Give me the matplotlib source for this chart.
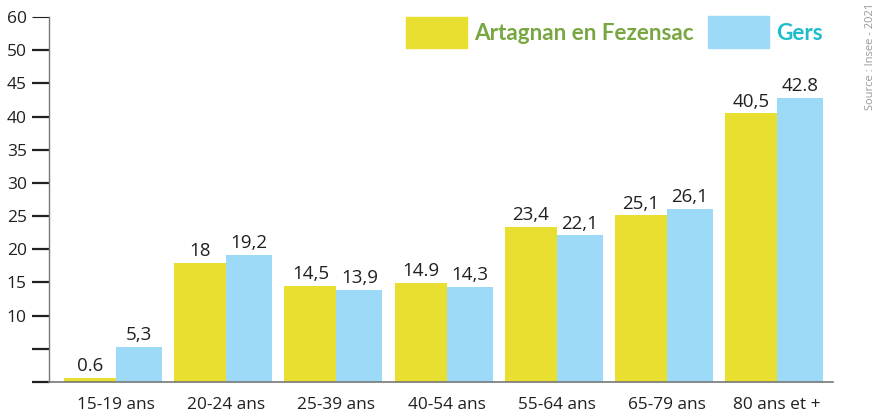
import numpy as np
import matplotlib.pyplot as plt

# age groups and shares (labels as printed on the chart)
categories = ['15-19 ans', '20-24 ans', '25-39 ans', '40-54 ans', '55-64 ans', '65-79 ans', '80 ans et +']
artagnan = [0.6, 18, 14.5, 14.9, 23.4, 25.1, 40.5]
gers = [5.3, 19.2, 13.9, 14.3, 22.1, 26.1, 42.8]
artagnan_txt = ['0.6', '18', '14,5', '14.9', '23,4', '25,1', '40,5']
gers_txt = ['5,3', '19,2', '13,9', '14,3', '22,1', '26,1', '42.8']
ytick_vals = [0, 5, 10, 15, 20, 25, 30, 35, 40, 45, 50, 55]
ytick_txt = ['', '', '10', '15', '20', '25', '30', '35', '40', '45', '50', '60']

yellow = '#e8df31'
blue = '#9ddaf8'
txt = '#231f20'

fig = plt.figure(figsize=(8.79, 4.12), dpi=100)
ax = fig.add_axes([49/879, 30/412, (833-49)/879, 365/412])

x = np.arange(len(categories))
w1 = 52/110.2
w2 = 46/110.2
ax.bar(x - w1, artagnan, width=w1, align='edge', color=yellow)
ax.bar(x, gers, width=w2, align='edge', color=blue)

for i in x:
    ax.text(i - w1/2, artagnan[i] + 0.4, artagnan_txt[i], ha='center', va='bottom',
            fontsize=13.5, color=txt, family='Open Sans')
    ax.text(i + w2/2, gers[i] + 0.4, gers_txt[i], ha='center', va='bottom',
            fontsize=13.5, color=txt, family='Open Sans')

ax.set_xlim(-0.608, 6.506)
ax.set_ylim(0, 55)
ax.set_xticks(x)
ax.set_xticklabels(categories, fontsize=12.4, color=txt, family='Open Sans')
ax.tick_params(axis='x', length=0, pad=11)
ax.set_yticks(ytick_vals)
ax.set_yticklabels(ytick_txt, fontsize=12.5, color=txt, family='Open Sans')
ax.tick_params(axis='y', length=12, width=1.6, color=txt, pad=4)
ax.yaxis.get_major_ticks()[-1].tick1line.set_color('#888888')
ax.yaxis.get_major_ticks()[-1].tick1line.set_markeredgewidth(0.8)

for s in ['top', 'right']:
    ax.spines[s].set_visible(False)
ax.spines['left'].set_color('#777777')
ax.spines['left'].set_linewidth(1.0)
ax.spines['bottom'].set_color('#777777')
ax.spines['bottom'].set_linewidth(1.2)

# custom legend
fig.patches.append(plt.Rectangle((406/879, 1-48/412), 61/879, 31/412, transform=fig.transFigure, color=yellow))
fig.patches.append(plt.Rectangle((708/879, 1-48/412), 61/879, 32/412, transform=fig.transFigure, color=blue))
fig.text(474/879, 1-33/412, 'Artagnan en Fezensac', fontsize=16.2, fontweight='bold',
         color='#78a640', family='Lato', va='center')
fig.text(776/879, 1-33/412, 'Gers', fontsize=16.2, fontweight='bold',
         color='#1ebdcb', family='Lato', va='center')

fig.text(871/879, 1-110/412, 'Source : Insee - 2021', rotation=90, fontsize=8,
         color='#999999', family='Open Sans', ha='center', va='bottom')

fig.savefig('out.png', dpi=100)
